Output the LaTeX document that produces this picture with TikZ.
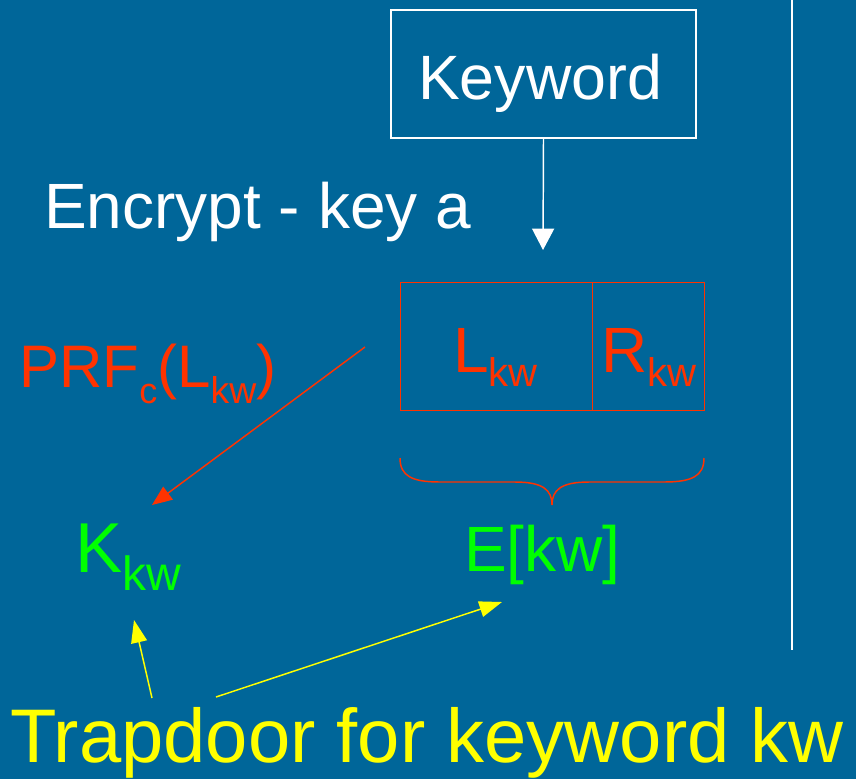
\documentclass[tikz,border=0pt]{standalone}
\usepackage{fontspec}
\setmainfont{Liberation Sans}
\usetikzlibrary{arrows.meta}
\definecolor{bg}{RGB}{0,102,153}
\definecolor{redc}{RGB}{255,51,0}
\definecolor{greenc}{RGB}{0,255,0}
\definecolor{yellowc}{RGB}{255,255,0}
\newcommand{\fsz}[1]{\fontsize{#1}{#1}\selectfont}
\newcommand{\subt}[3]{\raisebox{-#2}{\fsz{#1}#3}}
\tikzset{
  txt/.style={inner sep=0pt, anchor=base west},
  wline/.style={draw=white, line width=1.1pt},
  rline/.style={draw=redc, line width=1.1pt},
  yline/.style={draw=yellowc, line width=1.1pt},
}
\begin{document}
\begin{tikzpicture}[x=0.75pt,y=-0.75pt]
\fill[bg] (0,0) rectangle (856,779);
\useasboundingbox (0,0) rectangle (856,779);
% Keyword box
\node[wline, minimum width=228.75pt, minimum height=96pt, inner sep=0pt] (kwbox) at (543.5,74) {};
\node[inner sep=0pt, anchor=base, text=white, font=\fsz{47}] (kwtxt) at (540,99) {Keyword};
\coordinate (kwtip) at (543,250);
\draw[wline, -{Triangle[length=16pt,width=16.5pt]}] (kwbox.south) -- (kwtip);
% Encrypt label
\node[txt, text=white, font=\fsz{48}] (enc) at (44,228) {Encrypt - key a};
% vertical separator
\coordinate (vtop) at (792,0);
\coordinate (vbot) at (792,650);
\draw[wline] (vtop) -- (vbot);
% red box
\node[rline, minimum width=144pt, minimum height=96pt, inner sep=0pt, anchor=north west] (lbox) at (399.5,282) {};
\node[rline, minimum width=84pt, minimum height=96pt, inner sep=0pt, anchor=north west] (rbox) at (591.5,282) {};
\node[txt, text=redc, font=\fsz{48}] (ltxt) at (453,372) {L\subt{30}{11pt}{kw}};
\node[txt, text=redc, font=\fsz{48}] (rtxt) at (601,372) {R\subt{30}{11pt}{kw}};
% brace
\draw[rline] (400,458) .. controls (400,476) and (412,482) .. (440,482) -- (515,482) .. controls (543,482) and (552,490) .. (552,505) .. controls (552,490) and (561,482) .. (589,482) -- (664,482) .. controls (692,482) and (704,476) .. (704,458);
% PRF label
\node[txt, text=redc, font=\fsz{45}] (prf) at (19,387) {PRF\subt{27}{12pt}{c}(L\subt{28}{12pt}{kw})};
% Kkw and E[kw]
\node[txt, text=greenc, font=\fsz{53}] (kkw) at (75,572) {K\subt{36}{13.5pt}{kw}};
\node[txt, text=greenc, font=\fsz{48}] (ekw) at (464,571) {E[kw]};
% red arrow
\coordinate (rstart) at (365,347);
\coordinate (rtip) at (152,505);
\draw[rline, -{Triangle[length=15pt,width=12pt]}] (rstart) -- (rtip);
% Trapdoor label
\node[txt, text=yellowc, font=\fsz{57}] (trap) at (10,762) {Trapdoor for keyword kw};
% yellow arrows
\coordinate (y1s) at (152,698);
\coordinate (y1t) at (134,620);
\coordinate (y2s) at (216,697);
\coordinate (y2t) at (502,602);
\draw[yline, -{Triangle[length=17pt,width=12pt]}] (y1s) -- (y1t);
\draw[yline, -{Triangle[length=17pt,width=12pt]}] (y2s) -- (y2t);
\end{tikzpicture}
\end{document}
